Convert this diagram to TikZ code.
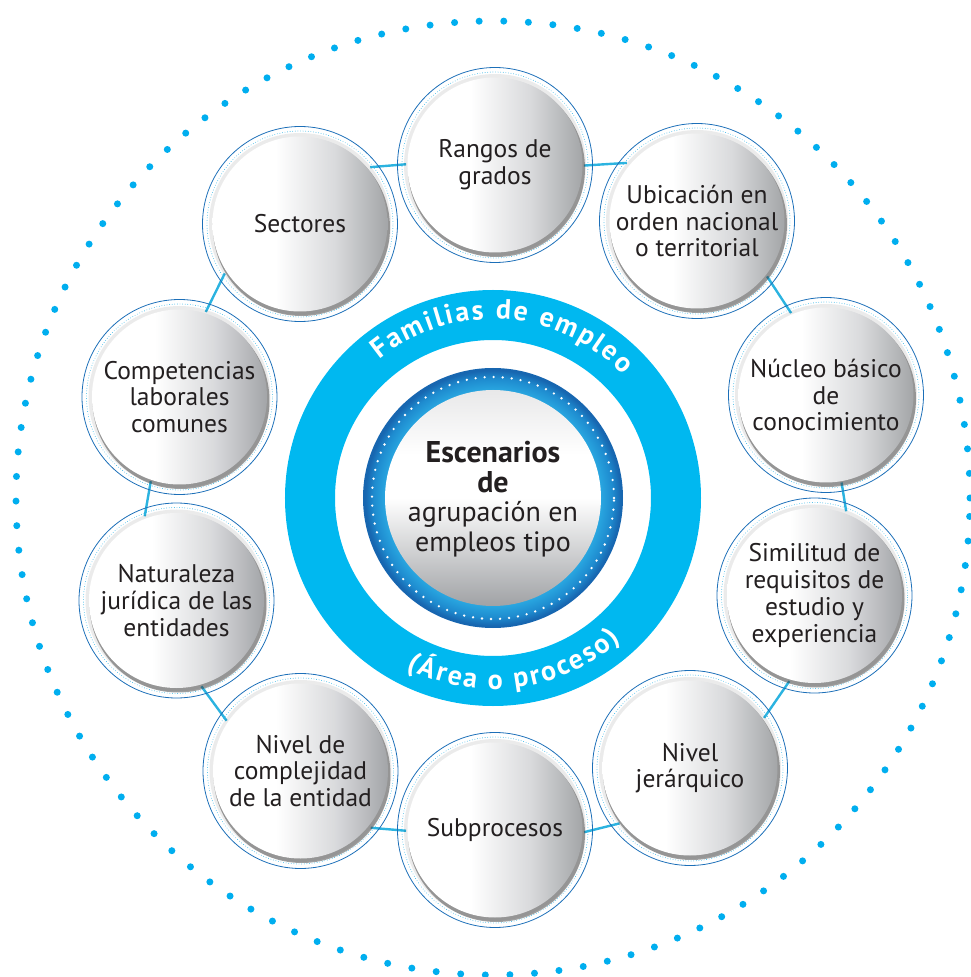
\documentclass[tikz,border=0pt]{standalone}
\usepackage{fontspec}
\setmainfont{PT Sans}
\usetikzlibrary{backgrounds,decorations.text}
\definecolor{ringcyan}{HTML}{00B8F0}
\definecolor{dotcyan}{HTML}{00AEEF}
\definecolor{linecyan}{HTML}{2BB3E0}
\definecolor{edgeblue}{HTML}{1C6FB8}
\definecolor{smalldot}{HTML}{3DB8E6}
\definecolor{txt}{HTML}{231F20}
\definecolor{ngrayA}{HTML}{D9DADC}
\definecolor{ngrayB}{HTML}{A3A5A8}
\definecolor{cgrayB}{HTML}{A0A2A5}
\definecolor{cgrayT}{HTML}{E8E8E9}
\definecolor{bdark}{HTML}{1766B0}
\definecolor{bmid}{HTML}{1E8BCF}
\definecolor{blight}{HTML}{2AA9E2}
\pgfdeclarehorizontalshading{nodeshade}{100bp}{color(0bp)=(white); color(25bp)=(white); color(43bp)=(white); color(60bp)=(ngrayA); color(75bp)=(ngrayB); color(100bp)=(ngrayB)}
\pgfdeclareverticalshading{centershade}{100bp}{color(0bp)=(cgrayB); color(25bp)=(cgrayB); color(50bp)=(white); color(60bp)=(white); color(75bp)=(cgrayT); color(100bp)=(cgrayT)}
\pgfdeclareradialshading{bluedisc}{\pgfpoint{0bp}{0bp}}{color(0bp)=(blight); color(20.5bp)=(blight); color(23bp)=(bmid); color(24.6bp)=(bdark); color(25bp)=(bdark); color(50bp)=(bdark)}
\newcommand\ringfont{\fontsize{28}{32}\selectfont\bfseries}
\tikzset{
  bubble/.style={circle, minimum size=195pt, inner sep=0pt, draw=edgeblue, line width=0.8pt,
    align=center, text=txt, font=\fontsize{25.5}{26.7}\selectfont,
    path picture={
      \fill[black, opacity=0.08] (path picture bounding box.center) circle[radius=91pt];
      \fill[black!75, opacity=0.5] ([shift={(1.5pt,-3.5pt)}]path picture bounding box.center) circle[radius=88.5pt];
      \shade[shading=nodeshade] (path picture bounding box.center) circle[radius=87.5pt];
      \draw[smalldot, line width=0.9pt, line cap=round, dash pattern=on 0pt off 2.6pt] (path picture bounding box.center) circle[radius=93pt];
    }},
  conn/.style={linecyan, line width=2.4pt, shorten <=-9pt, shorten >=-9pt},
  ringtext/.style={decorate, decoration={text along path, text={|\ringfont|#1}, text align={fit to path}, text color=white}}
}
\begin{document}
\begin{tikzpicture}[x=1pt,y=1pt]
\useasboundingbox (-493,-479) rectangle (477,498);
% outer dotted circle
\draw[dotcyan, line width=7pt, line cap=round, dash pattern=on 0pt off 24.62pt] (0,0) circle[radius=477pt];
% central ring
\draw[ringcyan, line width=50pt] (0,0) circle[radius=183pt];
\path[ringtext={Familias de empleo}] (129.5:179pt) arc[start angle=129.5, end angle=43.5, radius=179pt];
\path[ringtext={(Área o proceso)}] (243:191pt) arc[start angle=243, end angle=312, radius=191pt];
% centre disc
\shade[shading=bluedisc] (0,0) circle[radius=130pt];
\draw[white, line width=2.6pt, line cap=round, dash pattern=on 0pt off 9.02pt] (0,0) circle[radius=121pt];
\shade[shading=centershade] (0,0) circle[radius=108pt];
\node[align=center, text=txt, font=\fontsize{28}{29.5}\selectfont] (ctr) at (0,-1)
  {{\fontsize{30}{29.5}\selectfont\bfseries Escenarios}\\{\fontsize{30}{29.5}\selectfont\bfseries de}\\agrupación en\\empleos tipo};
% bubbles
\node[bubble] (rng) at (2,333) {Rangos de\\grados};
\node[bubble] (ubi) at (204,277) {Ubicación en\\orden nacional\\o territorial};
\node[bubble] (nuc) at (333,103) {Núcleo básico\\de\\conocimiento};
\node[bubble] (sim) at (321.5,-97.5) {Similitud de\\requisitos de\\estudio y\\experiencia};
\node[bubble] (jer) at (197,-270) {Nivel\\jerárquico};
\node[bubble] (sub) at (2,-332) {Subprocesos};
\node[bubble] (cpl) at (-192.5,-273) {Nivel de\\complejidad\\de la entidad};
\node[bubble] (nat) at (-316.5,-102.5) {Naturaleza\\jurídica de las\\entidades};
\node[bubble] (cmp) at (-313.5,101) {Competencias\\laborales\\comunes};
\node[bubble] (sec) at (-193,274) {Sectores};
% connectors
\begin{pgfonlayer}{background}
\draw[conn] (rng.0) -- (ubi.144);
\draw[conn] (ubi.-40) -- (nuc.114);
\draw[conn] (nuc.-80) -- (sim.72);
\draw[conn] (sim.-108) -- (jer.36);
\draw[conn] (jer.216) -- (sub.0);
\draw[conn] (sub.180) -- (cpl.-36);
\draw[conn] (cpl.144) -- (nat.-72);
\draw[conn] (nat.108) -- (cmp.252);
\draw[conn] (cmp.72) -- (sec.216);
\draw[conn] (sec.36) -- (rng.180);
\end{pgfonlayer}
\end{tikzpicture}
\end{document}
